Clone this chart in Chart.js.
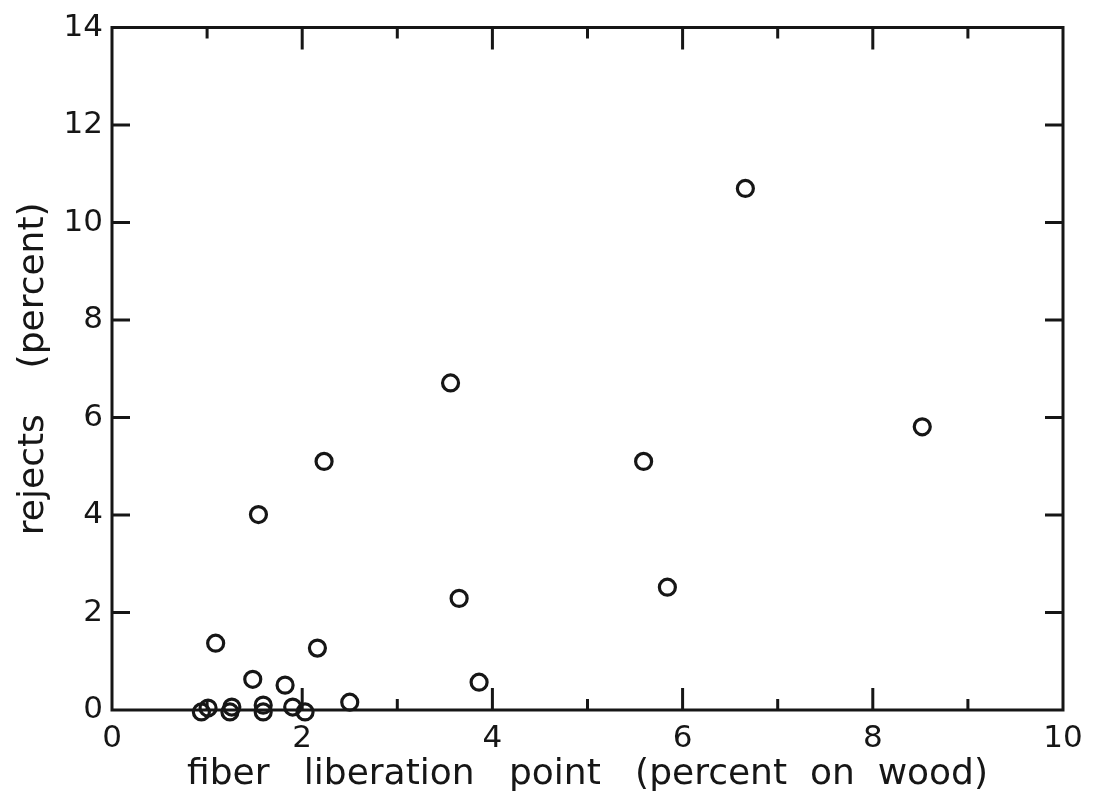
<!DOCTYPE html>
<html>
<head>
<meta charset="utf-8">
<script src="https://cdn.jsdelivr.net/npm/chart.js@4/dist/chart.umd.min.js"></script>
<style>
  html, body { margin: 0; padding: 0; background: #ffffff; }
  #wrap { width: 1096px; height: 796px; }
</style>
</head>
<body>
<div id="wrap"><canvas id="c" width="1096" height="796"></canvas></div>
<script>
// Data
const fiberLiberationPoint = [6.66, 3.56, 8.52, 2.23, 5.59, 1.54, 3.65, 5.84, 1.09, 2.16, 1.48, 1.82, 3.86, 2.50, 0.94, 1.01, 1.24, 1.26, 1.59, 1.59, 1.90, 2.03];
const rejectsPercent      = [10.70, 6.71, 5.81, 5.10, 5.10, 4.01, 2.29, 2.52, 1.37, 1.27, 0.63, 0.51, 0.57, 0.16, -0.04, 0.04, -0.04, 0.06, 0.10, -0.04, 0.06, -0.04];

// Tick values
const xMajorTicks = [0, 2, 4, 6, 8, 10];
const xMinorTicks = [1, 3, 5, 7, 9];
const yTicks = [0, 2, 4, 6, 8, 10, 12, 14];

const xTitle = 'fiber   liberation   point   (percent  on  wood)';
const yTitle = 'rejects    (percent)';

const INK = '#161616';
const FONT = "'DejaVu Sans', sans-serif";

const points = fiberLiberationPoint.map((x, i) => ({ x: x, y: rejectsPercent[i] }));

// Frame with inward tick marks on all four sides, drawn from the chart's scales
const framePlugin = {
  id: 'frameTicks',
  afterDatasetsDraw(chart) {
    const ctx = chart.ctx;
    const xs = chart.scales.x, ys = chart.scales.y;
    const L = xs.getPixelForValue(0), R = xs.getPixelForValue(10);
    const T = ys.getPixelForValue(14), B = ys.getPixelForValue(0);
    ctx.save();
    ctx.strokeStyle = INK;
    ctx.lineWidth = 3;
    ctx.lineCap = 'square';
    ctx.beginPath();
    ctx.rect(L, T, R - L, B - T);
    ctx.stroke();
    ctx.lineCap = 'butt';
    ctx.beginPath();
    xMajorTicks.forEach(v => {
      if (v === 0 || v === 10) return;
      const px = xs.getPixelForValue(v);
      ctx.moveTo(px, B); ctx.lineTo(px, B - 22);
      ctx.moveTo(px, T); ctx.lineTo(px, T + 22);
    });
    xMinorTicks.forEach(v => {
      const px = xs.getPixelForValue(v);
      ctx.moveTo(px, B); ctx.lineTo(px, B - 11);
      ctx.moveTo(px, T); ctx.lineTo(px, T + 11);
    });
    yTicks.forEach(v => {
      if (v === 0 || v === 14) return;
      const py = ys.getPixelForValue(v);
      ctx.moveTo(L, py); ctx.lineTo(L + 18, py);
      ctx.moveTo(R, py); ctx.lineTo(R - 18, py);
    });
    ctx.stroke();
    ctx.restore();
  }
};

new Chart(document.getElementById('c'), {
  type: 'scatter',
  data: {
    datasets: [{
      label: 'rejects',
      data: points,
      pointStyle: 'circle',
      pointRadius: 8,
      pointHoverRadius: 8,
      pointBorderWidth: 3.2,
      borderColor: INK,
      backgroundColor: 'rgba(0,0,0,0)',
      clip: false
    }]
  },
  options: {
    responsive: false,
    animation: false,
    layout: { padding: { left: 0, right: 33, top: 26, bottom: 0 } },
    plugins: {
      legend: { display: false },
      tooltip: { enabled: false }
    },
    scales: {
      x: {
        type: 'linear',
        min: 0, max: 10,
        grid: { display: false, drawTicks: false },
        border: { display: false },
        afterBuildTicks(scale) { scale.ticks = xMajorTicks.map(v => ({ value: v })); },
        afterFit(scale) { scale.height = 86; },
        ticks: {
          color: INK,
          padding: 10,
          maxRotation: 0,
          font: { family: FONT, size: 31 }
        },
        title: {
          display: true,
          text: xTitle,
          color: INK,
          font: { family: FONT, size: 36 },
          padding: { top: 0, bottom: 0 }
        }
      },
      y: {
        type: 'linear',
        min: 0, max: 14,
        grid: { display: false, drawTicks: false },
        border: { display: false },
        afterBuildTicks(scale) { scale.ticks = yTicks.map(v => ({ value: v })); },
        afterFit(scale) { scale.width = 112; },
        ticks: {
          color: INK,
          padding: 9,
          font: { family: FONT, size: 31 }
        },
        title: {
          display: true,
          text: yTitle,
          color: INK,
          font: { family: FONT, size: 36 },
          padding: { top: 12, bottom: 0 }
        }
      }
    }
  },
  plugins: [framePlugin]
});
</script>
</body>
</html>
